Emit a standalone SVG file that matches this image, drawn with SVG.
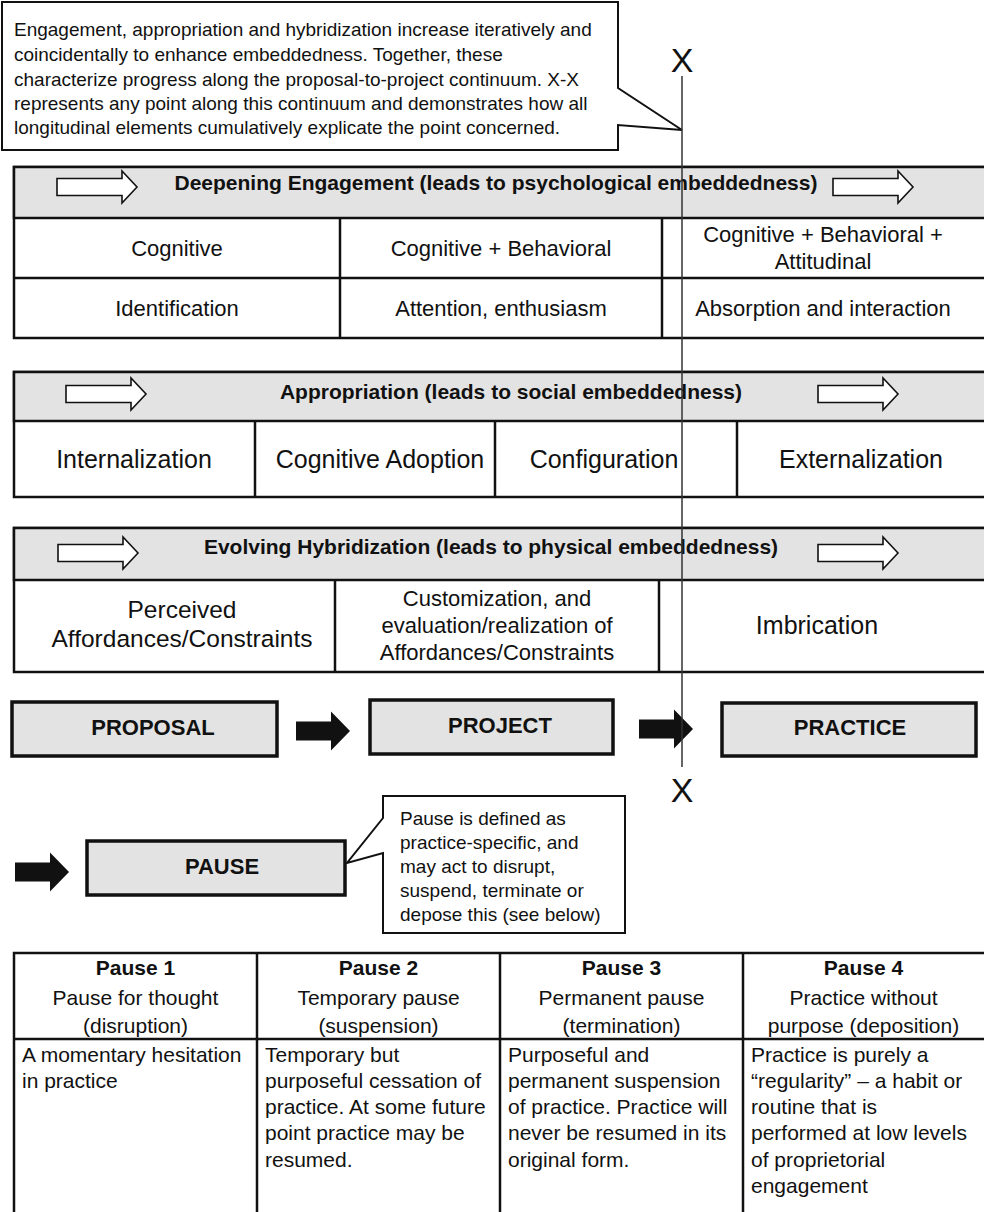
<svg xmlns="http://www.w3.org/2000/svg" width="984" height="1212" viewBox="0 0 984 1212">
<defs>
<path id="hollow" d="M0,-8.5 H65 V-16 L80,0 L65,16 V8.5 H0 Z" fill="#fff" stroke="#111" stroke-width="1.6"/>
<path id="solid" d="M0,-9.5 H35 V-19.5 L54,0 L35,19.5 V9.5 H0 Z" fill="#111"/>
</defs>
<style>
text { font-family: "Liberation Sans", Arial, sans-serif; fill: #111; }
.hdr { font-weight: bold; font-size: 21px; text-anchor: middle; }
.c22 { font-size: 22px; text-anchor: middle; }
.c25 { font-size: 25px; text-anchor: middle; }
.c24 { font-size: 24.5px; text-anchor: middle; }
.box { fill: #fff; stroke: #111; stroke-width: 2.5; }
.band { fill: #e3e3e3; stroke: #111; stroke-width: 2.5; }
.ln { stroke: #111; stroke-width: 2.5; fill: none; }
.proc { fill: #e3e3e3; stroke: #111; stroke-width: 3.5; }
.ptxt { font-weight: bold; font-size: 22px; text-anchor: middle; }
.call { fill: #fff; stroke: #111; stroke-width: 2; stroke-linejoin: miter; }
.ctext { font-size: 19px; }
.ptext { font-size: 19px; }
.th { font-weight: bold; font-size: 21px; text-anchor: middle; }
.tc { font-size: 21px; text-anchor: middle; }
.tb { font-size: 21px; }
.xx { font-size: 34px; text-anchor: middle; }
.xline { stroke: #333; stroke-width: 1.5; }
</style>

<g id="top-callout">
<path class="call" d="M2,2 H618 V88 L682,130 L618,125 V150 H2 Z"/>
<text class="ctext" x="14" y="36">Engagement, appropriation and hybridization increase iteratively and</text>
<text class="ctext" x="14" y="61">coincidentally to enhance embeddedness. Together, these</text>
<text class="ctext" x="14" y="86">characterize progress along the proposal-to-project continuum. X-X</text>
<text class="ctext" x="14" y="110">represents any point along this continuum and demonstrates how all</text>
<text class="ctext" x="14" y="134">longitudinal elements cumulatively explicate the point concerned.</text>
</g>

<g id="engagement">
<rect class="box" x="14" y="167" width="980" height="171"/>
<rect class="band" x="14" y="167" width="980" height="51"/>
<line class="ln" x1="14" y1="278" x2="990" y2="278"/>
<line class="ln" x1="340" y1="218" x2="340" y2="338"/>
<line class="ln" x1="662" y1="218" x2="662" y2="338"/>
<use href="#hollow" transform="translate(57,187)"/>
<use href="#hollow" transform="translate(833,187)"/>
<text class="hdr" x="496" y="190">Deepening Engagement (leads to psychological embeddedness)</text>
<text class="c22" x="177" y="256">Cognitive</text>
<text class="c22" x="501" y="256">Cognitive + Behavioral</text>
<text class="c22" x="823" y="242">Cognitive + Behavioral +</text>
<text class="c22" x="823" y="269">Attitudinal</text>
<text class="c22" x="177" y="316">Identification</text>
<text class="c22" x="501" y="316">Attention, enthusiasm</text>
<text class="c22" x="823" y="316">Absorption and interaction</text>
</g>

<g id="appropriation">
<rect class="box" x="14" y="372" width="980" height="125"/>
<rect class="band" x="14" y="372" width="980" height="49"/>
<line class="ln" x1="255" y1="421" x2="255" y2="497"/>
<line class="ln" x1="495" y1="421" x2="495" y2="497"/>
<line class="ln" x1="737" y1="421" x2="737" y2="497"/>
<use href="#hollow" transform="translate(66,394)"/>
<use href="#hollow" transform="translate(818,394)"/>
<text class="hdr" x="511" y="399">Appropriation (leads to social embeddedness)</text>
<text class="c25" x="134" y="468">Internalization</text>
<text class="c25" x="380" y="468">Cognitive Adoption</text>
<text class="c25" x="604" y="468">Configuration</text>
<text class="c25" x="861" y="468">Externalization</text>
</g>

<g id="hybridization">
<rect class="box" x="14" y="528" width="980" height="144"/>
<rect class="band" x="14" y="528" width="980" height="52"/>
<line class="ln" x1="335" y1="580" x2="335" y2="672"/>
<line class="ln" x1="659" y1="580" x2="659" y2="672"/>
<use href="#hollow" transform="translate(58,553)"/>
<use href="#hollow" transform="translate(818,553)"/>
<text class="hdr" x="491" y="554">Evolving Hybridization (leads to physical embeddedness)</text>
<text class="c24" x="182" y="618">Perceived</text>
<text class="c24" x="182" y="647">Affordances/Constraints</text>
<text class="c22" x="497" y="606">Customization, and</text>
<text class="c22" x="497" y="633">evaluation/realization of</text>
<text class="c22" x="497" y="660">Affordances/Constraints</text>
<text class="c25" x="817" y="634">Imbrication</text>
</g>

<g id="proposal">
<rect class="proc" x="12" y="702" width="265" height="54"/>
<text class="ptxt" x="153" y="735">PROPOSAL</text>
</g>
<g id="project">
<rect class="proc" x="370" y="700" width="243" height="54"/>
<text class="ptxt" x="500" y="733">PROJECT</text>
</g>
<g id="practice">
<rect class="proc" x="722" y="703" width="254" height="53"/>
<text class="ptxt" x="850" y="735">PRACTICE</text>
</g>
<g id="pause">
<rect class="proc" x="87" y="841" width="258" height="54"/>
<text class="ptxt" x="222" y="874">PAUSE</text>
</g>

<g id="pause-callout">
<path class="call" d="M383,796 H625 V933 H383 V853 L347,863 L383,818 Z"/>
<text class="ptext" x="400" y="825">Pause is defined as</text>
<text class="ptext" x="400" y="849">practice-specific, and</text>
<text class="ptext" x="400" y="873">may act to disrupt,</text>
<text class="ptext" x="400" y="897">suspend, terminate or</text>
<text class="ptext" x="400" y="921">depose this (see below)</text>
</g>

<g id="connectors">
<use href="#solid" transform="translate(296,731)"/>
<use href="#solid" transform="translate(639,729)"/>
<use href="#solid" transform="translate(15,872)"/>
<line class="xline" x1="682" y1="76" x2="682" y2="767"/>
<text class="xx" x="682" y="72">X</text>
<text class="xx" x="682" y="802">X</text>
</g>

<g id="pause-table">
<rect class="box" x="14" y="953" width="980" height="270"/>
<line class="ln" x1="14" y1="1039" x2="990" y2="1039"/>
<line class="ln" x1="257" y1="953" x2="257" y2="1215"/>
<line class="ln" x1="500" y1="953" x2="500" y2="1215"/>
<line class="ln" x1="743" y1="953" x2="743" y2="1215"/>
<text class="th" x="135.5" y="975">Pause 1</text>
<text class="tc" x="135.5" y="1005">Pause for thought</text>
<text class="tc" x="135.5" y="1033">(disruption)</text>
<text class="th" x="378.5" y="975">Pause 2</text>
<text class="tc" x="378.5" y="1005">Temporary pause</text>
<text class="tc" x="378.5" y="1033">(suspension)</text>
<text class="th" x="621.5" y="975">Pause 3</text>
<text class="tc" x="621.5" y="1005">Permanent pause</text>
<text class="tc" x="621.5" y="1033">(termination)</text>
<text class="th" x="863.5" y="975">Pause 4</text>
<text class="tc" x="863.5" y="1005">Practice without</text>
<text class="tc" x="863.5" y="1033">purpose (deposition)</text>
<text class="tb" x="22" y="1062">A momentary hesitation</text>
<text class="tb" x="22" y="1088">in practice</text>
<text class="tb" x="265" y="1062">Temporary but</text>
<text class="tb" x="265" y="1088">purposeful cessation of</text>
<text class="tb" x="265" y="1114">practice. At some future</text>
<text class="tb" x="265" y="1140">point practice may be</text>
<text class="tb" x="265" y="1167">resumed.</text>
<text class="tb" x="508" y="1062">Purposeful and</text>
<text class="tb" x="508" y="1088">permanent suspension</text>
<text class="tb" x="508" y="1114">of practice. Practice will</text>
<text class="tb" x="508" y="1140">never be resumed in its</text>
<text class="tb" x="508" y="1167">original form.</text>
<text class="tb" x="751" y="1062">Practice is purely a</text>
<text class="tb" x="751" y="1088">“regularity” – a habit or</text>
<text class="tb" x="751" y="1114">routine that is</text>
<text class="tb" x="751" y="1140">performed at low levels</text>
<text class="tb" x="751" y="1167">of proprietorial</text>
<text class="tb" x="751" y="1193">engagement</text>
</g>
</svg>
